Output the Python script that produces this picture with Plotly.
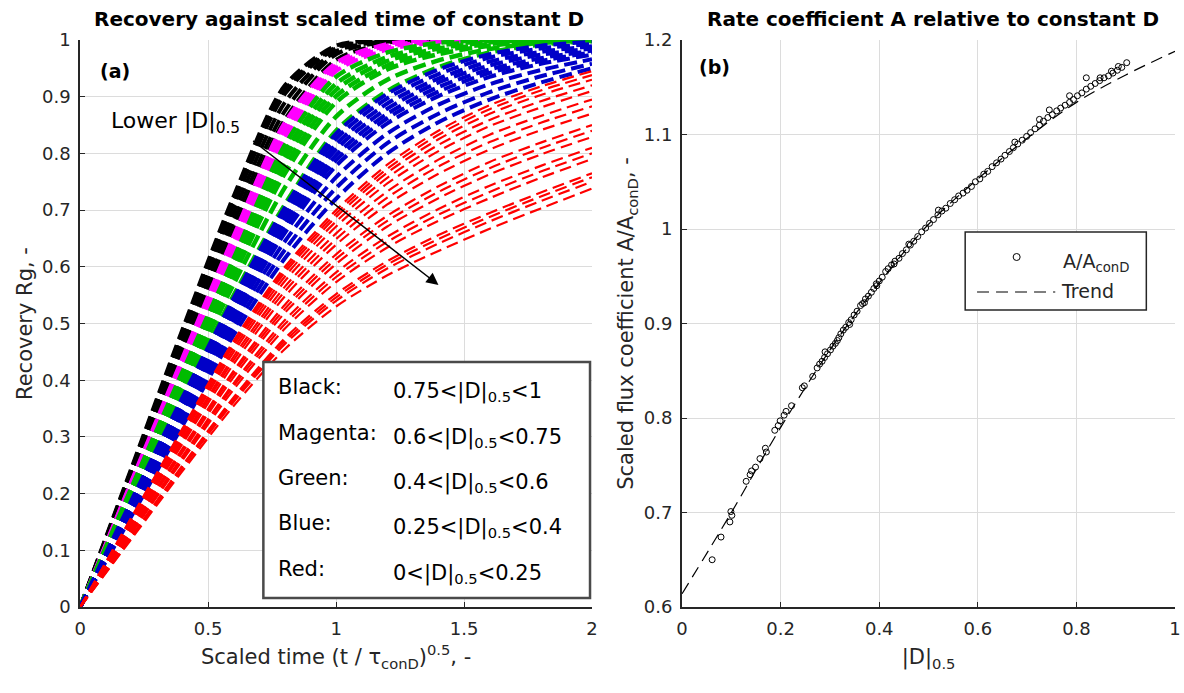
import plotly.graph_objects as go

# ---------------- Panel (a) data: recovery curves, y read at X_GRID ----------------
X_GRID = [0, 0.2, 0.4, 0.6, 0.8, 1.0, 1.2, 1.4, 1.6, 1.8, 2.0]

BLACK_CURVES = [
    [0, 0.245, 0.490, 0.725, 0.920, 0.990, 1.0, 1.0, 1.0, 1.0, 1.0],
    [0, 0.242, 0.485, 0.717, 0.912, 0.987, 1.0, 1.0, 1.0, 1.0, 1.0],
    [0, 0.240, 0.480, 0.710, 0.905, 0.985, 1.0, 1.0, 1.0, 1.0, 1.0],
    [0, 0.235, 0.470, 0.695, 0.890, 0.980, 0.998, 1.0, 1.0, 1.0, 1.0],
    [0, 0.230, 0.460, 0.680, 0.875, 0.975, 0.997, 1.0, 1.0, 1.0, 1.0],
    [0, 0.225, 0.450, 0.665, 0.860, 0.965, 0.995, 1.0, 1.0, 1.0, 1.0],
]
MAGENTA_CURVES = [
    [0, 0.222, 0.440, 0.655, 0.855, 0.960, 0.993, 1.0, 1.0, 1.0, 1.0],
    [0, 0.220, 0.433, 0.643, 0.845, 0.955, 0.990, 0.998, 1.0, 1.0, 1.0],
    [0, 0.217, 0.427, 0.632, 0.835, 0.950, 0.987, 0.997, 1.0, 1.0, 1.0],
    [0, 0.214, 0.420, 0.620, 0.825, 0.945, 0.983, 0.996, 1.0, 1.0, 1.0],
]
GREEN_CURVES = [
    [0, 0.210, 0.415, 0.615, 0.815, 0.935, 0.978, 0.995, 1.0, 1.0, 1.0],
    [0, 0.208, 0.410, 0.607, 0.802, 0.923, 0.970, 0.990, 0.998, 1.0, 1.0],
    [0, 0.205, 0.405, 0.600, 0.790, 0.912, 0.963, 0.985, 0.996, 1.0, 1.0],
    [0, 0.202, 0.400, 0.592, 0.777, 0.901, 0.955, 0.980, 0.993, 0.998, 1.0],
    [0, 0.200, 0.395, 0.585, 0.765, 0.890, 0.948, 0.975, 0.990, 0.997, 1.0],
    [0, 0.195, 0.385, 0.570, 0.740, 0.865, 0.930, 0.964, 0.984, 0.995, 0.999],
    [0, 0.190, 0.375, 0.550, 0.710, 0.840, 0.910, 0.952, 0.978, 0.992, 0.998],
]
BLUE_CURVES = [
    [0, 0.188, 0.370, 0.545, 0.705, 0.835, 0.905, 0.948, 0.975, 0.990, 0.997],
    [0, 0.185, 0.366, 0.540, 0.698, 0.826, 0.897, 0.940, 0.969, 0.985, 0.993],
    [0, 0.183, 0.362, 0.534, 0.690, 0.816, 0.888, 0.932, 0.962, 0.979, 0.989],
    [0, 0.181, 0.358, 0.529, 0.683, 0.807, 0.879, 0.925, 0.955, 0.974, 0.985],
    [0, 0.179, 0.353, 0.523, 0.675, 0.797, 0.870, 0.917, 0.948, 0.968, 0.981],
    [0, 0.176, 0.349, 0.518, 0.668, 0.788, 0.862, 0.909, 0.942, 0.963, 0.978],
    [0, 0.174, 0.345, 0.512, 0.660, 0.778, 0.853, 0.901, 0.935, 0.958, 0.974],
    [0, 0.169, 0.337, 0.502, 0.645, 0.758, 0.835, 0.886, 0.922, 0.947, 0.966],
    [0, 0.165, 0.328, 0.491, 0.630, 0.739, 0.818, 0.870, 0.908, 0.936, 0.958],
    [0, 0.160, 0.320, 0.480, 0.615, 0.720, 0.800, 0.855, 0.895, 0.925, 0.950],
]
RED_CURVES = [
    [0, 0.158, 0.315, 0.470, 0.600, 0.700, 0.780, 0.840, 0.885, 0.918, 0.945],
    [0, 0.157, 0.313, 0.466, 0.595, 0.694, 0.773, 0.833, 0.878, 0.911, 0.938],
    [0, 0.155, 0.310, 0.462, 0.590, 0.688, 0.766, 0.825, 0.870, 0.903, 0.930],
    [0, 0.154, 0.306, 0.456, 0.583, 0.680, 0.757, 0.815, 0.859, 0.892, 0.920],
    [0, 0.152, 0.302, 0.450, 0.575, 0.671, 0.747, 0.804, 0.848, 0.881, 0.910],
    [0, 0.149, 0.297, 0.442, 0.565, 0.659, 0.733, 0.789, 0.833, 0.866, 0.895],
    [0, 0.147, 0.293, 0.436, 0.557, 0.649, 0.722, 0.777, 0.820, 0.854, 0.883],
    [0, 0.144, 0.288, 0.429, 0.548, 0.639, 0.710, 0.764, 0.807, 0.841, 0.870],
    [0, 0.141, 0.280, 0.417, 0.533, 0.622, 0.690, 0.742, 0.785, 0.819, 0.850],
    [0, 0.139, 0.277, 0.412, 0.526, 0.614, 0.681, 0.732, 0.774, 0.809, 0.840],
    [0, 0.137, 0.273, 0.406, 0.519, 0.605, 0.671, 0.721, 0.763, 0.798, 0.829],
    [0, 0.133, 0.266, 0.395, 0.506, 0.590, 0.653, 0.702, 0.743, 0.778, 0.810],
    [0, 0.132, 0.263, 0.390, 0.499, 0.582, 0.644, 0.692, 0.732, 0.768, 0.800],
    [0, 0.130, 0.259, 0.384, 0.491, 0.573, 0.634, 0.681, 0.721, 0.757, 0.790],
    [0, 0.125, 0.250, 0.370, 0.474, 0.552, 0.610, 0.656, 0.695, 0.731, 0.765],
    [0, 0.124, 0.248, 0.366, 0.469, 0.546, 0.604, 0.649, 0.688, 0.724, 0.758],
    [0, 0.122, 0.245, 0.362, 0.464, 0.540, 0.597, 0.641, 0.680, 0.716, 0.750],
    [0, 0.120, 0.240, 0.355, 0.455, 0.530, 0.585, 0.628, 0.667, 0.703, 0.738],
]

GROUP_LABELS = ["Black:", "Magenta:", "Green:", "Blue:", "Red:"]
GROUP_RANGES = ["0.75<|D|<sub>0.5</sub><1", "0.6<|D|<sub>0.5</sub><0.75",
                "0.4<|D|<sub>0.5</sub><0.6", "0.25<|D|<sub>0.5</sub><0.4",
                "0<|D|<sub>0.5</sub><0.25"]

# ---------------- Panel (b) data ----------------
D05 = [0.061, 0.079, 0.097, 0.099, 0.101, 0.130, 0.138, 0.141, 0.149, 0.158,
       0.169, 0.171, 0.188, 0.195, 0.199, 0.207, 0.211, 0.222, 0.244, 0.248,
       0.265, 0.274, 0.279, 0.284, 0.289, 0.290, 0.295, 0.301, 0.306, 0.311,
       0.315, 0.318, 0.322, 0.327, 0.332, 0.338, 0.340, 0.343, 0.349, 0.355,
       0.362, 0.366, 0.370, 0.372, 0.378, 0.384, 0.389, 0.394, 0.395, 0.400,
       0.406, 0.413, 0.418, 0.425, 0.430, 0.432, 0.440, 0.447, 0.455, 0.460,
       0.463, 0.470, 0.478, 0.486, 0.494, 0.502, 0.510, 0.519, 0.520, 0.527,
       0.535, 0.544, 0.553, 0.561, 0.570, 0.578, 0.587, 0.595, 0.604, 0.612,
       0.620, 0.629, 0.638, 0.647, 0.655, 0.664, 0.672, 0.675, 0.681, 0.690,
       0.699, 0.707, 0.716, 0.725, 0.725, 0.733, 0.742, 0.745, 0.751, 0.760,
       0.768, 0.777, 0.786, 0.786, 0.794, 0.802, 0.811, 0.820, 0.820, 0.829,
       0.838, 0.847, 0.848, 0.856, 0.865, 0.871, 0.874, 0.883, 0.885, 0.892,
       0.902]
A_RATIO = [0.650, 0.674, 0.690, 0.701, 0.697, 0.733, 0.740, 0.744, 0.748, 0.757,
           0.768, 0.764, 0.787, 0.792, 0.797, 0.803, 0.807, 0.813, 0.832, 0.834,
           0.844, 0.853, 0.857, 0.860, 0.864, 0.870, 0.868, 0.872, 0.876, 0.879,
           0.882, 0.885, 0.889, 0.893, 0.896, 0.901, 0.899, 0.904, 0.909, 0.913,
           0.919, 0.921, 0.922, 0.926, 0.929, 0.933, 0.937, 0.942, 0.940, 0.945,
           0.949, 0.955, 0.958, 0.962, 0.963, 0.966, 0.969, 0.974, 0.978, 0.984,
           0.983, 0.987, 0.992, 0.997, 1.001, 1.006, 1.010, 1.015, 1.020, 1.019,
           1.022, 1.027, 1.031, 1.035, 1.038, 1.041, 1.045, 1.050, 1.053, 1.058,
           1.061, 1.066, 1.070, 1.074, 1.078, 1.082, 1.086, 1.092, 1.090, 1.094,
           1.098, 1.102, 1.106, 1.110, 1.116, 1.114, 1.118, 1.126, 1.121, 1.125,
           1.128, 1.131, 1.134, 1.141, 1.137, 1.141, 1.144, 1.148, 1.160, 1.151,
           1.154, 1.157, 1.160, 1.160, 1.162, 1.167, 1.165, 1.168, 1.172, 1.171,
           1.176]
TREND_X = [0, 0.1, 0.2, 0.3, 0.4, 0.5, 0.6, 0.7, 0.8, 0.9, 1.0]
TREND_Y = [0.614, 0.700, 0.790, 0.872, 0.943, 1.005, 1.053, 1.096, 1.134, 1.163, 1.188]

FONT = "DejaVu Sans, Verdana, sans-serif"
TICK_COL = "#262626"
GRID_COL = "#dcdcdc"
W, H = 1184, 693
TOP, BOT = 40, 607            # pixel rows of the plot area
PH = BOT - TOP


def px_x(px):
    return px / W


def px_y(py):
    return (BOT - py) / PH


fig = go.Figure()

groups = [
    (BLACK_CURVES, "#000000", 4.0, "13px,6px"),
    (MAGENTA_CURVES, "#ff00ff", 4.0, "13px,6px"),
    (GREEN_CURVES, "#00bb00", 4.5, "13px,6px"),
    (BLUE_CURVES, "#0000c8", 4.0, "13px,6px"),
    (RED_CURVES, "#ff0000", 2.2, "12px,6px"),
]
for curves, col, w, dash in groups:
    for ys in curves:
        fig.add_trace(go.Scatter(
            x=X_GRID, y=ys, mode="lines", xaxis="x", yaxis="y",
            line=dict(color=col, width=w, dash=dash, shape="spline", smoothing=0.8),
            showlegend=False, hoverinfo="skip"))

fig.add_trace(go.Scatter(
    x=D05, y=A_RATIO, mode="markers", xaxis="x2", yaxis="y2",
    marker=dict(symbol="circle-open", size=6, color="black", line=dict(width=1)),
    name="A/A<sub>conD</sub>", showlegend=False))
fig.add_trace(go.Scatter(
    x=TREND_X, y=TREND_Y, mode="lines", xaxis="x2", yaxis="y2",
    line=dict(color="black", width=1.2, dash="12px,7px", shape="spline"),
    name="Trend", showlegend=False))

axis_common = dict(showgrid=True, gridcolor=GRID_COL, gridwidth=1, zeroline=False,
                   showline=True, linecolor="#262626", linewidth=2, mirror=False,
                   ticks="inside", ticklen=5, tickcolor="#262626", ticklabelstandoff=4,
                   tickfont=dict(family=FONT, size=18, color=TICK_COL))
title_font = dict(family=FONT, size=21, color=TICK_COL)

fig.update_layout(
    width=W, height=H,
    margin=dict(l=0, r=0, t=TOP, b=H - BOT),
    paper_bgcolor="white", plot_bgcolor="white",
    font=dict(family=FONT, color=TICK_COL),
    showlegend=False,
    xaxis=dict(domain=[75 / W, 592 / W], range=[0, 2], dtick=0.5,
               title=dict(text="Scaled time (t / \u03c4<sub>conD</sub>)<sup>0.5</sup>, -",
                          font=title_font, standoff=12),
               **axis_common),
    yaxis=dict(domain=[0, 1], range=[0, 1], dtick=0.1,
               title=dict(text="Recovery Rg, -", font=title_font, standoff=4),
               **axis_common),
    xaxis2=dict(domain=[683 / W, 1181 / W], range=[0, 1], dtick=0.2, anchor="y2",
                title=dict(text="|D|<sub>0.5</sub>", font=title_font, standoff=12),
                **axis_common),
    yaxis2=dict(domain=[0, 1], range=[0.6, 1.2], dtick=0.1, anchor="x2",
                title=dict(text="Scaled flux coefficient A/A<sub>conD</sub>, -",
                           font=title_font, standoff=4),
                **axis_common),
)

annotations = [
    dict(text="<b>Recovery against scaled time of constant D</b>", xref="paper", yref="paper",
         x=px_x(336), y=px_y(19), showarrow=False, xanchor="center", yanchor="middle",
         font=dict(family=FONT, size=20, color="black")),
    dict(text="<b>Rate coefficient A relative to constant D</b>", xref="paper", yref="paper",
         x=px_x(936), y=px_y(19), showarrow=False, xanchor="center", yanchor="middle",
         font=dict(family=FONT, size=20, color="black")),
    dict(text="<b>(a)</b>", xref="paper", yref="paper", x=px_x(93), y=px_y(71), showarrow=False,
         xanchor="left", yanchor="middle", font=dict(family=FONT, size=19, color="black")),
    dict(text="<b>(b)</b>", xref="paper", yref="paper", x=px_x(698), y=px_y(67), showarrow=False,
         xanchor="left", yanchor="middle", font=dict(family=FONT, size=19, color="black")),
    dict(text="Lower |D|<sub>0.5</sub>", xref="paper", yref="paper", x=px_x(104), y=px_y(118),
         showarrow=False, xanchor="left", yanchor="middle", yshift=-4,
         font=dict(family=FONT, size=22, color="black")),
    dict(text="", xref="x", yref="y", x=1.40, y=0.568, ax=0.67, ay=0.824,
         axref="x", ayref="y", showarrow=True, arrowhead=2, arrowsize=1.6,
         arrowwidth=1.5, arrowcolor="black"),
]
row_py = [387, 433, 478, 523, 569]
for lab, rng, py in zip(GROUP_LABELS, GROUP_RANGES, row_py):
    annotations.append(dict(text=lab, xref="paper", yref="paper", x=px_x(273), y=px_y(py),
                            showarrow=False, xanchor="left", yanchor="middle",
                            font=dict(family=FONT, size=21, color="black")))
    annotations.append(dict(text=rng, xref="paper", yref="paper", x=px_x(389), y=px_y(py),
                            showarrow=False, xanchor="left", yanchor="middle", yshift=-5,
                            font=dict(family=FONT, size=21, color="black")))
# right legend texts
annotations.append(dict(text="A/A<sub>conD</sub>", xref="paper", yref="paper",
                        x=px_x(1066), y=px_y(258), showarrow=False, xanchor="left",
                        yanchor="middle", yshift=-4,
                        font=dict(family=FONT, size=19, color=TICK_COL)))
annotations.append(dict(text="Trend", xref="paper", yref="paper",
                        x=px_x(1064), y=px_y(291), showarrow=False, xanchor="left",
                        yanchor="middle", font=dict(family=FONT, size=19, color=TICK_COL)))
fig.update_layout(annotations=annotations)

# legend box of panel (a)
fig.add_shape(type="rect", xref="paper", yref="paper",
              x0=px_x(260), x1=px_x(590), y0=px_y(598), y1=px_y(362),
              fillcolor="white", line=dict(color="#4a4a4a", width=2.5), layer="above")
# legend box of panel (b)
fig.add_shape(type="rect", xref="paper", yref="paper",
              x0=px_x(969), x1=px_x(1152), y0=px_y(310), y1=px_y(232),
              fillcolor="white", line=dict(color="#262626", width=1.5), layer="above")
fig.add_shape(type="circle", xref="paper", yref="paper", xsizemode="pixel", ysizemode="pixel",
              xanchor=px_x(1021), yanchor=px_y(257), x0=-3.5, x1=3.5, y0=-3.5, y1=3.5,
              line=dict(color="black", width=1), layer="above")
fig.add_shape(type="line", xref="paper", yref="paper",
              x0=px_x(981), x1=px_x(1060), y0=px_y(292), y1=px_y(292),
              line=dict(color="black", width=1.2, dash="12px,7px"), layer="above")

fig.write_html("out.html")
